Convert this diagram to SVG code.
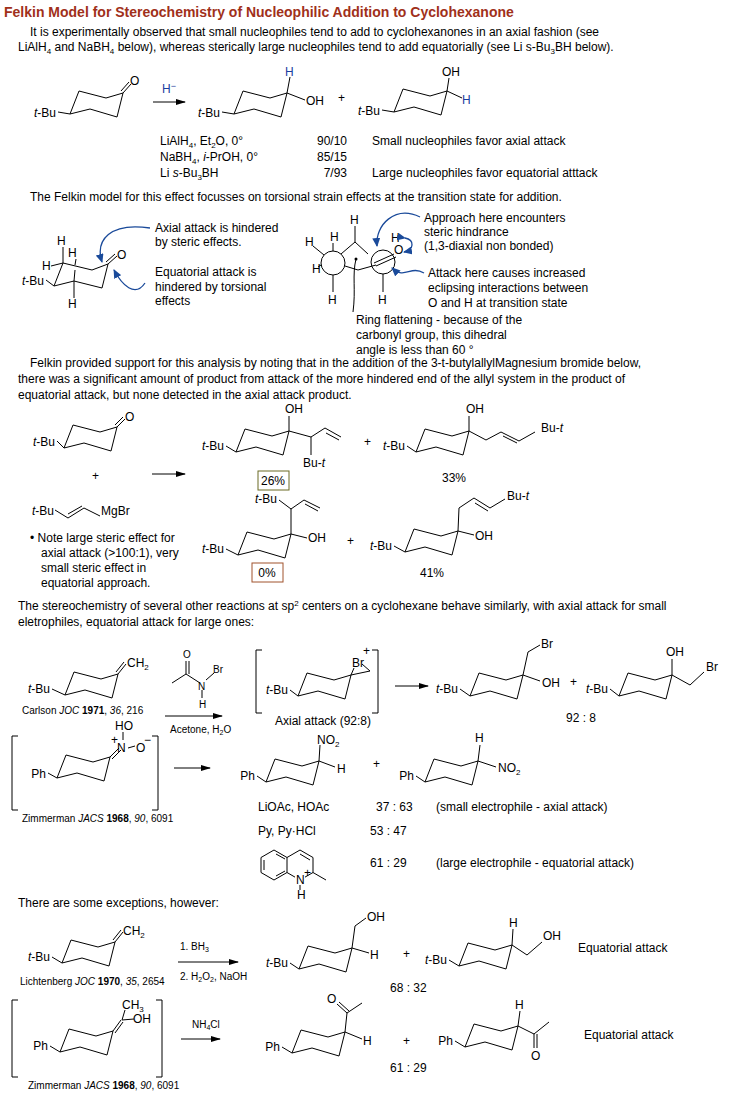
<svg xmlns="http://www.w3.org/2000/svg" xmlns:xlink="http://www.w3.org/1999/xlink" width="736" height="1109" viewBox="0 0 736 1109">
<style>
text{font-family:"Liberation Sans",Arial,sans-serif;font-size:12px;fill:#000}
.t{font-size:14px;font-weight:bold;fill:#a0301a}
.s{font-size:10px}
.b{fill:#1a3fa0}
.ln{fill:none;stroke:#000;stroke-width:1}
.bl{fill:none;stroke:#1a4a9a;stroke-width:1.3}
.e{text-anchor:end}
.m{text-anchor:middle}
</style>
<defs>
<path id="ch" d="M0,0 L9,-23 L36,-16 L53,-21 L47,3 L20,-5 Z" fill="none" stroke="#000"/>
<marker id="ar" markerWidth="10" markerHeight="8" refX="9" refY="4" orient="auto" markerUnits="userSpaceOnUse"><path d="M0,1 L10,4 L0,7 Z" fill="#000"/></marker>
<marker id="ab" markerWidth="9" markerHeight="8" refX="8" refY="4" orient="auto" markerUnits="userSpaceOnUse"><path d="M0,0 L9,4 L0,8 Z" fill="#1a4a9a"/></marker>
</defs>
<rect width="736" height="1109" fill="#fff"/>
<text class="t" x="4" y="17">Felkin Model for Stereochemistry of Nucleophilic Addition to Cyclohexanone</text>
<text x="30" y="36">It is experimentally observed that small nucleophiles tend to add to cyclohexanones in an axial fashion (see</text>
<text x="18" y="51">LiAlH<tspan font-size="8" dy="3">4</tspan><tspan dy="-3"> and NaBH</tspan><tspan font-size="8" dy="3">4</tspan><tspan dy="-3"> below), whereas sterically large nucleophiles tend to add equatorially (see Li s-Bu</tspan><tspan font-size="8" dy="3">3</tspan><tspan dy="-3">BH below).</tspan></text>

<g id="row1">
<text class="e" x="56" y="117"><tspan font-style="italic">t</tspan>-Bu</text>
<path class="ln" d="M58,112 L70,114"/>
<use xlink:href="#ch" x="70" y="114"/>
<path class="ln" d="M123,93 L131,84 M121,91 L129,82"/>
<text x="130" y="85">O</text>
<path class="ln" d="M153,102 L185,102" marker-end="url(#ar)"/>
<text class="b" x="162" y="93">H<tspan font-size="9" dy="-4">−</tspan></text>
<text class="e" x="220" y="117"><tspan font-style="italic">t</tspan>-Bu</text>
<path class="ln" d="M222,112 L234,114"/>
<use xlink:href="#ch" x="234" y="114"/>
<path class="ln" d="M287,93 L290,77 M287,93 L305,100"/>
<text class="b" x="285" y="76">H</text>
<text x="306" y="105">OH</text>
<text x="338" y="102">+</text>
<text class="e" x="380" y="115"><tspan font-style="italic">t</tspan>-Bu</text>
<path class="ln" d="M382,110 L394,112"/>
<use xlink:href="#ch" x="394" y="112"/>
<path class="ln" d="M447,91 L449,78 M447,91 L462,98"/>
<text x="442" y="76">OH</text>
<text class="b" x="462" y="104">H</text>
<text x="160" y="145">LiAlH<tspan font-size="8" dy="3">4</tspan><tspan dy="-3">, Et</tspan><tspan font-size="8" dy="3">2</tspan><tspan dy="-3">O, 0°</tspan></text>
<text x="160" y="161">NaBH<tspan font-size="8" dy="3">4</tspan><tspan dy="-3">, </tspan><tspan font-style="italic">i</tspan>-PrOH, 0°</text>
<text x="160" y="177">Li <tspan font-style="italic">s</tspan>-Bu<tspan font-size="8" dy="3">3</tspan><tspan dy="-3">BH</tspan></text>
<text class="e" x="347" y="145">90/10</text>
<text class="e" x="347" y="161">85/15</text>
<text class="e" x="347" y="177">7/93</text>
<text x="372" y="145">Small nucleophiles favor axial attack</text>
<text x="372" y="177">Large nucleophiles favor equatorial atttack</text>
</g>

<text x="30" y="201">The Felkin model for this effect focusses on torsional strain effects at the transition state for addition.</text>

<g id="felkin-left">
<text class="e" x="44" y="285"><tspan font-style="italic">t</tspan>-Bu</text>
<path class="ln" d="M46,280 L54,286"/>
<path class="ln" d="M54,286 L63,263 L92,270 L108,264 L102,288 L74,281 Z"/>
<path class="ln" d="M108,264 L117,256 M106,262 L115,254"/>
<text x="117" y="259">O</text>
<path class="ln" d="M63,263 L63,247 M63,263 L51,266 M74,281 L74,298 M74,281 L75,270 M75,265 L76,259"/>
<text x="57" y="245">H</text>
<text x="68" y="257">H</text>
<text x="42" y="270">H</text>
<text x="68" y="308">H</text>
<path class="bl" d="M150,228 C110,222 95,240 102,262" marker-end="url(#ab)"/>
<path class="bl" d="M145,283 C135,298 122,285 114,270" marker-end="url(#ab)"/>
<text x="155" y="232">Axial attack is hindered</text>
<text x="155" y="246">by steric effects.</text>
<text x="155" y="276">Equatorial attack is</text>
<text x="155" y="291">hindered by torsional</text>
<text x="155" y="305">effects</text>
</g>

<g id="felkin-right">
<circle class="ln" cx="333" cy="263" r="12"/>
<circle class="ln" cx="383" cy="262" r="12"/>
<path class="ln" d="M333,251 L333,243 M333,275 L333,292 M324,255 L313,246 M321,265 L318,267 M341,254 L355,242 L368,254 M345,266 L358,270 L376,265 M355,242 L355,226 M383,274 L383,292 M374,263 L394,254 M376,266 L396,257"/>
<circle cx="356" cy="259" r="1.5" fill="#000"/>
<path class="ln" d="M356,259 C352,275 356,290 353,312"/>
<text x="330" y="241">H</text>
<text x="350" y="224">H</text>
<text x="305" y="246">H</text>
<text x="312" y="273">H</text>
<text x="328" y="304">H</text>
<text x="378" y="304">H</text>
<text x="394" y="254">O</text>
<text x="391" y="242">H</text>
<path class="bl" d="M420,217 C395,205 375,225 377,246" marker-end="url(#ab)"/>
<path class="bl" d="M405,238 C415,240 414,250 404,252" marker-start="url(#ab)" marker-end="url(#ab)"/>
<path class="bl" d="M424,273 C410,265 405,280 392,268" marker-end="url(#ab)"/>
<text x="424" y="222">Approach here encounters</text>
<text x="424" y="236">steric hindrance</text>
<text x="424" y="250">(1,3-diaxial non bonded)</text>
<text x="428" y="277">Attack here causes increased</text>
<text x="428" y="292">eclipsing interactions between</text>
<text x="428" y="307">O and H at transition state</text>
<text x="356" y="324">Ring flattening - because of the</text>
<text x="356" y="339">carbonyl group, this dihedral</text>
<text x="356" y="354">angle is less than 60 °</text>
</g>

<text x="30" y="367">Felkin provided support for this analysis by noting that in the addition of the 3-t-butylallylMagnesium bromide below,</text>
<text x="18" y="383">there was a significant amount of product from attack of the more hindered end of the allyl system in the product of</text>
<text x="18" y="399">equatorial attack, but none detected in the axial attack product.</text>

<g id="felkin-exp">
<text class="e" x="55" y="446"><tspan font-style="italic">t</tspan>-Bu</text>
<path class="ln" d="M57,441 L64,448"/>
<use xlink:href="#ch" x="64" y="448"/>
<path class="ln" d="M117,427 L125,419 M115,425 L123,417"/>
<text x="125" y="421">O</text>
<text x="92" y="480">+</text>
<text x="32" y="515"><tspan font-style="italic">t</tspan>-Bu</text>
<path class="ln" d="M55,510 L68,518 L84,508 L100,516 M68,514 L82,506"/>
<text x="101" y="515">MgBr</text>
<path class="ln" d="M152,474 L185,474" marker-end="url(#ar)"/>

<text class="e" x="224" y="450"><tspan font-style="italic">t</tspan>-Bu</text>
<path class="ln" d="M226,446 L236,452"/>
<use xlink:href="#ch" x="236" y="452"/>
<path class="ln" d="M289,431 L289,416 M289,431 L311,437 L311,455 M311,437 L325,428 L341,437 M326,433 L339,440"/>
<text x="285" y="413">OH</text>
<text x="303" y="467">Bu-<tspan font-style="italic">t</tspan></text>
<rect x="258" y="471" width="31" height="19" fill="none" stroke="#6b6b25"/>
<text class="m" x="273" y="485">26%</text>
<text x="364" y="446">+</text>
<text class="e" x="405" y="450"><tspan font-style="italic">t</tspan>-Bu</text>
<path class="ln" d="M407,446 L416,452"/>
<use xlink:href="#ch" x="416" y="452"/>
<path class="ln" d="M469,431 L469,416 M469,431 L486,440 L501,432 L519,441 L535,432 M503,436 L517,443"/>
<text x="466" y="413">OH</text>
<text x="541" y="432">Bu-<tspan font-style="italic">t</tspan></text>
<text class="m" x="454" y="482">33%</text>

<text class="e" x="224" y="553"><tspan font-style="italic">t</tspan>-Bu</text>
<path class="ln" d="M226,549 L238,555"/>
<use xlink:href="#ch" x="238" y="555"/>
<path class="ln" d="M291,534 L307,538 M291,534 L291,509 L279,500 M291,509 L304,500 L320,508 M305,504 L318,511"/>
<text x="308" y="542">OH</text>
<text x="255" y="503"><tspan font-style="italic">t</tspan>-Bu</text>
<rect x="252" y="563" width="31" height="19" fill="none" stroke="#a0522d"/>
<text class="m" x="267" y="577" fill="#a0522d">0%</text>
<text x="347" y="545">+</text>
<text class="e" x="392" y="550"><tspan font-style="italic">t</tspan>-Bu</text>
<path class="ln" d="M394,546 L405,552"/>
<use xlink:href="#ch" x="405" y="552"/>
<path class="ln" d="M458,531 L474,535 M458,531 L459,508 L474,498 L490,508 L505,499 M475,503 L488,511"/>
<text x="475" y="540">OH</text>
<text x="507" y="500">Bu-<tspan font-style="italic">t</tspan></text>
<text class="m" x="432" y="577">41%</text>
<text x="30" y="542">•  Note large steric effect for</text>
<text x="41" y="557">axial attack (&gt;100:1), very</text>
<text x="41" y="572">small steric effect in</text>
<text x="41" y="587">equatorial approach.</text>
</g>

<text x="18" y="610">The stereochemistry of several other reactions at sp<tspan font-size="8" dy="-4">2</tspan><tspan dy="4"> centers on a cyclohexane behave similarly, with axial attack for small</tspan></text>
<text x="18" y="626">eletrophiles, equatorial attack for large ones:</text>

<g id="carlson">
<text class="e" x="50" y="693"><tspan font-style="italic">t</tspan>-Bu</text>
<path class="ln" d="M52,689 L65,695"/>
<use xlink:href="#ch" x="65" y="695"/>
<path class="ln" d="M118,674 L126,664 M116,672 L124,662"/>
<text x="127" y="667">CH<tspan font-size="8" dy="3">2</tspan></text>
<text class="s" x="22" y="714">Carlson <tspan font-style="italic">JOC</tspan> <tspan font-weight="bold">1971</tspan>, <tspan font-style="italic">36</tspan>, 216</text>
<path class="ln" d="M172,683 L186,674 L200,683 M186,674 L186,661 M189,674 L189,661 M206,680 L214,673 M202,690 L202,698"/>
<text class="s" x="183" y="658">O</text>
<text class="s" x="198" y="690">N</text>
<text class="s" x="213" y="673">Br</text>
<text class="s" x="199" y="708">H</text>
<path class="ln" d="M165,716 L222,716" marker-end="url(#ar)"/>
<text class="s" x="170" y="733">Acetone, H<tspan font-size="7" dy="2">2</tspan><tspan dy="-2">O</tspan></text>
<path class="ln" d="M262,650 L256,650 L256,713 L262,713 M372,650 L378,650 L378,713 L372,713"/>
<text class="e" x="288" y="694"><tspan font-style="italic">t</tspan>-Bu</text>
<path class="ln" d="M290,690 L298,696"/>
<use xlink:href="#ch" x="298" y="696"/>
<path class="ln" d="M351,675 L354,668 M351,675 L370,671 L362,664"/>
<text x="352" y="667">Br</text>
<text x="363" y="655">+</text>
<text x="275" y="725">Axial attack (92:8)</text>
<path class="ln" d="M395,686 L428,686" marker-end="url(#ar)"/>
<text class="e" x="458" y="693"><tspan font-style="italic">t</tspan>-Bu</text>
<path class="ln" d="M460,689 L470,696"/>
<use xlink:href="#ch" x="470" y="696"/>
<path class="ln" d="M523,675 L528,652 L540,645 M523,675 L540,681"/>
<text x="541" y="648">Br</text>
<text x="542" y="687">OH</text>
<text x="570" y="686">+</text>
<text class="e" x="608" y="693"><tspan font-style="italic">t</tspan>-Bu</text>
<path class="ln" d="M610,689 L619,696"/>
<use xlink:href="#ch" x="619" y="696"/>
<path class="ln" d="M672,675 L672,659 M672,675 L690,685 L704,672"/>
<text x="666" y="656">OH</text>
<text x="706" y="671">Br</text>
<text x="566" y="722">92 : 8</text>
</g>

<g id="nitro">
<path class="ln" d="M18,736 L12,736 L12,810 L18,810 M152,736 L158,736 L158,810 L152,810"/>
<text class="e" x="46" y="778">Ph</text>
<path class="ln" d="M48,773 L57,778"/>
<use xlink:href="#ch" x="57" y="778"/>
<path class="ln" d="M110,757 L119,748 M112,759 L121,750 M123,740 L123,732 M128,748 L135,746"/>
<text x="117" y="752">N</text>
<text x="111" y="744" font-size="9">+</text>
<text x="115" y="730">HO</text>
<text x="136" y="752">O</text>
<text x="144" y="744" font-size="10">−</text>
<text class="s" x="22" y="822">Zimmerman <tspan font-style="italic">JACS</tspan> <tspan font-weight="bold">1968</tspan>, <tspan font-style="italic">90</tspan>, 6091</text>
<path class="ln" d="M174,768 L210,768" marker-end="url(#ar)"/>
<text class="e" x="255" y="780">Ph</text>
<path class="ln" d="M257,776 L266,782"/>
<use xlink:href="#ch" x="266" y="782"/>
<path class="ln" d="M319,761 L320,745 M319,761 L335,767"/>
<text x="317" y="744">NO<tspan font-size="8" dy="3">2</tspan></text>
<text x="337" y="773">H</text>
<text x="373" y="768">+</text>
<text class="e" x="414" y="780">Ph</text>
<path class="ln" d="M416,776 L425,782"/>
<use xlink:href="#ch" x="425" y="782"/>
<path class="ln" d="M478,761 L480,745 M478,761 L496,767"/>
<text x="475" y="742">H</text>
<text x="498" y="772">NO<tspan font-size="8" dy="3">2</tspan></text>
<text x="258" y="811">LiOAc, HOAc</text>
<text x="376" y="811">37 : 63</text>
<text x="436" y="811">(small electrophile - axial attack)</text>
<text x="258" y="835">Py, Py·HCl</text>
<text x="370" y="835">53 : 47</text>
<path class="ln" d="M274,850 L287,857.5 L287,872.5 L274,880 L261,872.5 L261,857.5 Z M287,857.5 L300,850 L313,857.5 L313,872.5 L300,880 L287,872.5 M313,872.5 L326,880 M264,860 L264,870 M276,854 L285,859 M276,876 L285,871 M300,854 L310,860 M300,885 L300,890"/>
<rect x="295" y="875" width="10" height="10" fill="#fff"/>
<text x="296" y="884" font-size="9">N</text>
<text x="304" y="877" font-size="8">+</text>
<text x="297" y="899" font-size="9">H</text>
<text x="370" y="867">61 : 29</text>
<text x="436" y="867">(large electrophile - equatorial attack)</text>
</g>

<text x="18" y="907">There are some exceptions, however:</text>

<g id="lichtenberg">
<text class="e" x="50" y="961"><tspan font-style="italic">t</tspan>-Bu</text>
<path class="ln" d="M52,957 L62,963"/>
<use xlink:href="#ch" x="62" y="963"/>
<path class="ln" d="M115,942 L123,932 M113,940 L121,930"/>
<text x="123" y="935">CH<tspan font-size="8" dy="3">2</tspan></text>
<text class="s" x="20" y="985">Lichtenberg <tspan font-style="italic">JOC</tspan> <tspan font-weight="bold">1970</tspan>, <tspan font-style="italic">35</tspan>, 2654</text>
<path class="ln" d="M178,962 L238,962" marker-end="url(#ar)"/>
<text class="s" x="180" y="950">1. BH<tspan font-size="7" dy="2">3</tspan></text>
<text class="s" x="180" y="980">2. H<tspan font-size="7" dy="2">2</tspan><tspan dy="-2">O</tspan><tspan font-size="7" dy="2">2</tspan><tspan dy="-2">, NaOH</tspan></text>
<text class="e" x="288" y="967"><tspan font-style="italic">t</tspan>-Bu</text>
<path class="ln" d="M290,963 L299,969"/>
<use xlink:href="#ch" x="299" y="969"/>
<path class="ln" d="M352,948 L355,926 L366,918 M352,948 L369,953"/>
<text x="367" y="921">OH</text>
<text x="370" y="959">H</text>
<text x="403" y="958">+</text>
<text class="e" x="447" y="964"><tspan font-style="italic">t</tspan>-Bu</text>
<path class="ln" d="M449,960 L459,966"/>
<use xlink:href="#ch" x="459" y="966"/>
<path class="ln" d="M512,945 L513,929 M512,945 L527,955 L542,942"/>
<text x="509" y="927">H</text>
<text x="543" y="940">OH</text>
<text x="578" y="952">Equatorial attack</text>
<text x="390" y="992">68 : 32</text>
</g>

<g id="enol">
<path class="ln" d="M18,1000 L12,1000 L12,1077 L18,1077 M156,1000 L162,1000 L162,1077 L156,1077"/>
<text class="e" x="48" y="1050">Ph</text>
<path class="ln" d="M50,1046 L60,1052"/>
<use xlink:href="#ch" x="60" y="1052"/>
<path class="ln" d="M113,1031 L121,1020 M115,1033 L123,1022 M122,1020 L125,1010 M122,1020 L134,1019"/>
<text x="122" y="1009">CH<tspan font-size="8" dy="3">3</tspan></text>
<text x="133" y="1023">OH</text>
<text class="s" x="28" y="1089">Zimmerman <tspan font-style="italic">JACS</tspan> <tspan font-weight="bold">1968</tspan>, <tspan font-style="italic">90</tspan>, 6091</text>
<path class="ln" d="M181,1039 L220,1039" marker-end="url(#ar)"/>
<text class="s" x="192" y="1028">NH<tspan font-size="7" dy="2">4</tspan><tspan dy="-2">Cl</tspan></text>
<text class="e" x="280" y="1051">Ph</text>
<path class="ln" d="M282,1047 L292,1053"/>
<use xlink:href="#ch" x="292" y="1053"/>
<path class="ln" d="M345,1032 L347,1013 L337,1004 M349,1011 L339,1002 M347,1013 L362,1003 M345,1032 L362,1039"/>
<text x="327" y="1003">O</text>
<text x="363" y="1045">H</text>
<text x="403" y="1045">+</text>
<text class="e" x="453" y="1045">Ph</text>
<path class="ln" d="M455,1041 L465,1047"/>
<use xlink:href="#ch" x="465" y="1047"/>
<path class="ln" d="M518,1026 L520,1011 M518,1026 L534,1034 L534,1048 M537,1034 L537,1048 M534,1034 L549,1022"/>
<text x="515" y="1009">H</text>
<text x="531" y="1060">O</text>
<text x="584" y="1039">Equatorial attack</text>
<text x="390" y="1072">61 : 29</text>
</g>
</svg>
